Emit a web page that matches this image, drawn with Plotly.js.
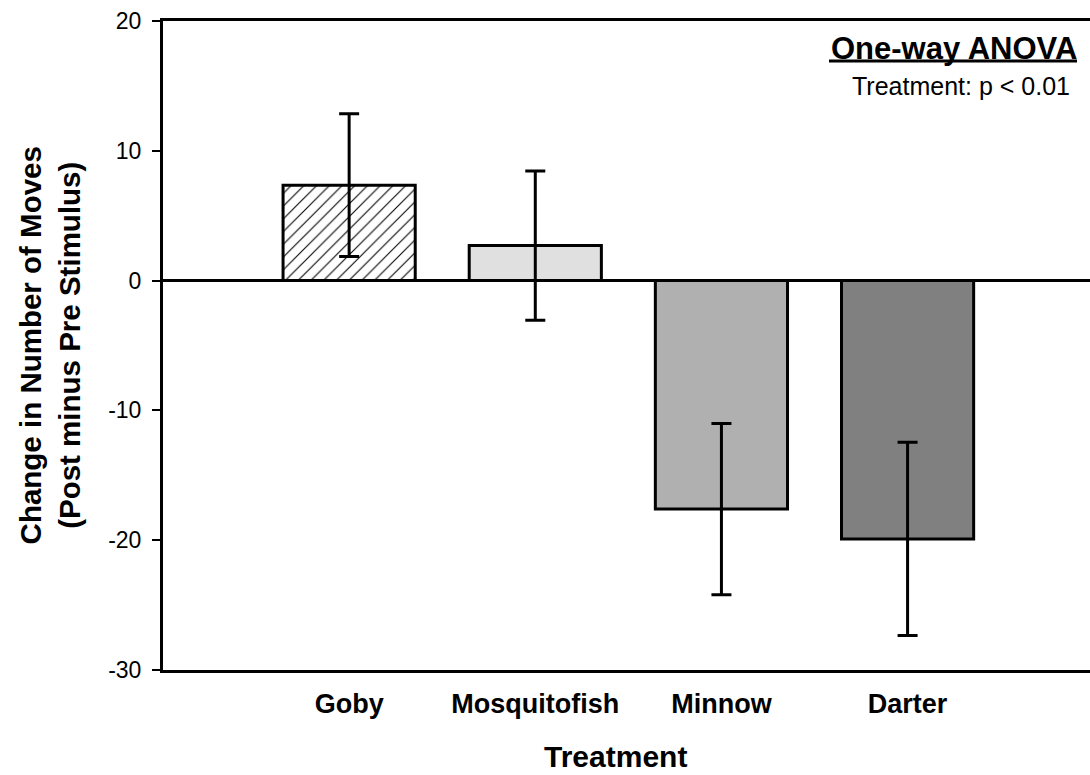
<!DOCTYPE html>
<html>
<head>
<meta charset="utf-8">
<script src="https://cdn.plot.ly/plotly-3.0.1.min.js"></script>
<style>html,body{margin:0;padding:0;background:#fff;}#chart{width:1090px;height:775px;}</style>
</head>
<body>
<div id="chart"></div>
<script>
const treatments = ['Goby', 'Mosquitofish', 'Minnow', 'Darter'];
const meanChange = [7.35, 2.7, -17.6, -19.9];
const stdError = [5.5, 5.75, 6.6, 7.45];
const barColors = ['#ffffff', '#e0e0e0', '#b0b0b0', '#808080'];
const barPatterns = ['/', '', '', ''];
const yTickVals = [-30, -20, -10, 0, 10, 20];
const yTickText = ['-30', '-20', '-10', '0', '10', '20'];

const FONT = 'Liberation Sans, Arial, sans-serif';

// one trace per bar (overlay mode keeps them centred on their category)
const traces = treatments.map((t, i) => {
  const marker = {color: barColors[i], line: {color: '#000', width: 3}};
  if (barPatterns[i]) {
    marker.pattern = {shape: barPatterns[i], size: 9, solidity: 0.12, fgcolor: '#000', bgcolor: barColors[i], fillmode: 'replace'};
  }
  return {
    type: 'bar',
    x: [t],
    y: [meanChange[i]],
    width: 0.71,
    marker: marker,
    error_y: {type: 'data', array: [stdError[i]], visible: true, color: '#000', thickness: 3, width: 10},
    hoverinfo: 'none'
  };
});

const layout = {
  width: 1090, height: 775,
  margin: {l: 163, r: 0, t: 21, b: 105},
  paper_bgcolor: '#fff', plot_bgcolor: '#fff',
  showlegend: false,
  barmode: 'overlay',
  font: {family: FONT, color: '#000'},
  xaxis: {
    type: 'category',
    categoryarray: treatments, categoryorder: 'array',
    range: [-1, 3.98],
    showline: true, mirror: true, linecolor: '#000', linewidth: 3,
    ticks: '', showgrid: false, zeroline: false,
    tickfont: {family: FONT, size: 27, color: '#000', weight: 'bold'},
    ticklabelstandoff: 8
  },
  yaxis: {
    range: [-30, 20],
    tickvals: yTickVals, ticktext: yTickText,
    showline: true, linecolor: '#000', linewidth: 3,
    ticks: 'outside', ticklen: 8, tickwidth: 2, tickcolor: '#000',
    showgrid: false,
    zeroline: true, zerolinecolor: '#000', zerolinewidth: 3,
    tickfont: {family: FONT, size: 23, color: '#000'},
    ticklabelstandoff: 6
  },
  annotations: [
    {xref: 'paper', yref: 'paper', x: 0.4876, y: -0.134, xanchor: 'center', yanchor: 'middle',
     text: '<b>Treatment</b>', showarrow: false, font: {family: FONT, size: 30, color: '#000'}},
    {xref: 'paper', yref: 'paper', x: -0.122, y: 0.5, xanchor: 'center', yanchor: 'middle', textangle: -90,
     text: '<b>Change in Number of Moves<br>(Post minus Pre Stimulus)</b>', showarrow: false,
     font: {family: FONT, size: 29.5, color: '#000'}},
    {xref: 'paper', yref: 'paper', x: 0.988, y: 0.988, xanchor: 'right', yanchor: 'top',
     text: '<b>One-way ANOVA</b>', showarrow: false, font: {family: FONT, size: 31, color: '#000'}},
    {xref: 'paper', yref: 'paper', x: 0.981, y: 0.925, xanchor: 'right', yanchor: 'top',
     text: 'Treatment: p < 0.01', showarrow: false, font: {family: FONT, size: 25, color: '#000'}}
  ],
  shapes: [
    {type: 'line', xref: 'paper', yref: 'paper', x0: (829-163)/927, x1: (1077-163)/927,
     y0: (670-61)/649, y1: (670-61)/649, line: {color: '#000', width: 3}}
  ]
};

Plotly.newPlot('chart', traces, layout, {staticPlot: true, displayModeBar: false});
</script>
</body>
</html>
